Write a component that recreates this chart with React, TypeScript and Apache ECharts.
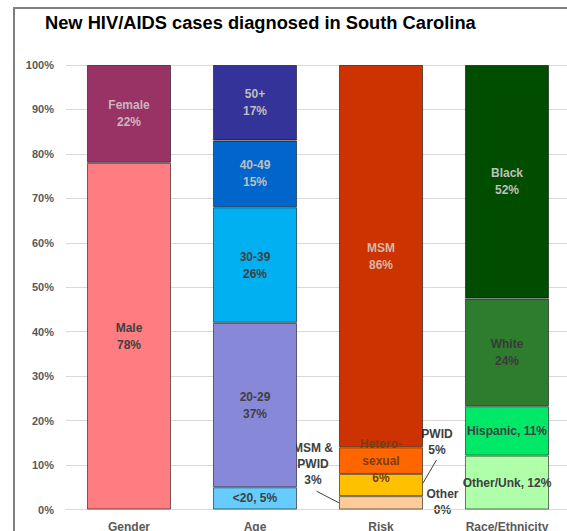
import React, { useEffect, useRef } from 'react';
import * as echarts from 'echarts';

const titleText = 'New HIV/AIDS cases diagnosed in South Carolina';
const categories = ['Gender', 'Age', 'Risk', 'Race/Ethnicity'];

const genderNames = ['Male', 'Female'];
const genderValues = [78, 22];
const ageNames = ['<20', '20-29', '30-39', '40-49', '50+'];
const ageValues = [5, 37, 26, 15, 17];
const riskNames = ['Other', 'MSM &\nPWID', 'PWID', 'Hetero-\nsexual', 'MSM'];
const riskValues = [0, 3, 5, 6, 86];
const raceNames = ['Other/Unk', 'Hispanic', 'White', 'Black'];
const raceValues = [12, 11, 24, 52];

// styles (kept apart from data)
const genderColors = ['#FF7C80', '#993366'];
const ageColors = ['#66CCFF', '#8888D8', '#00B0F0', '#0066CC', '#333399'];
const riskColors = ['#FFCC99', '#FFCC99', '#FFC000', '#FF6600', '#CC3300'];
const raceColors = ['#AFFFAA', '#00E868', '#2E7D2E', '#004D00'];
const genderText = ['#404040', '#C9B6C0'];
const ageText = ['#404040', '#404040', '#404040', '#BFBFBF', '#BFBFBF'];
const riskText = ['#404040', '#404040', '#404040', '#7A3D12', '#D5B8AA'];
const raceText = ['#404040', '#404040', '#3A3A3A', '#BFBFBF'];
// label modes: 'stack' = name\nvalue, 'inline' = name, value; others are drawn outside the bar
const genderModes = ['stack', 'stack'];
const ageModes = ['inline', 'stack', 'stack', 'stack', 'stack'];
const riskModes = ['other', 'left', 'right', 'stack', 'stack'];
const raceModes = ['inline', 'inline', 'stack', 'stack'];

const groups = [
  { names: genderNames, values: genderValues, colors: genderColors, text: genderText, modes: genderModes },
  { names: ageNames, values: ageValues, colors: ageColors, text: ageText, modes: ageModes },
  { names: riskNames, values: riskValues, colors: riskColors, text: riskText, modes: riskModes },
  { names: raceNames, values: raceValues, colors: raceColors, text: raceText, modes: raceModes },
];

const FONT = '"Liberation Sans", Arial, sans-serif';

export default function App() {
  const ref = useRef<HTMLDivElement>(null);
  useEffect(() => {
    if (!ref.current) return;
    const chart = echarts.init(ref.current, undefined, { renderer: 'svg' });
    const series: any[] = [];
    groups.forEach((g, gi) => {
      const total = g.values.reduce((a, b) => a + b, 0);
      g.values.forEach((v, i) => {
        const mode = g.modes[i];
        const inside = mode === 'stack' || mode === 'inline';
        const text = mode === 'inline' ? `${g.names[i]}, ${v}%` : `${g.names[i]}\n${v}%`;
        series.push({
          type: 'bar',
          name: g.names[i].replace('\n', ' '),
          stack: 'total',
          barWidth: '66.7%',
          data: categories.map((_, k) => (k === gi ? (v / total) * 100 : '-')),
          itemStyle: {
            color: g.colors[i],
            borderColor: 'rgba(0,0,0,0.55)',
            borderWidth: v === 0 ? 0 : 1,
          },
          label: {
            show: inside,
            position: 'inside',
            formatter: () => text,
            color: g.text[i],
            fontFamily: FONT,
            fontWeight: 'bold',
            fontSize: 12,
            lineHeight: 17,
          },
          emphasis: { disabled: true },
        });
      });
    });

    chart.setOption({
      animation: false,
      grid: { left: 66, right: -3, top: 65, bottom: 21.5, outerBoundsMode: 'none' },
      xAxis: {
        type: 'category',
        data: categories,
        axisLine: { lineStyle: { color: '#D9D9D9', width: 1 } },
        axisTick: { show: false },
        axisLabel: { color: '#595959', fontFamily: FONT, fontWeight: 'bold', fontSize: 12, margin: 11 },
      },
      yAxis: {
        type: 'value',
        min: 0,
        max: 100,
        interval: 10,
        axisLine: { show: false },
        axisTick: { show: false },
        splitLine: { lineStyle: { color: '#D9D9D9', width: 1 } },
        axisLabel: { formatter: '{value}%', color: '#595959', fontFamily: FONT, fontWeight: 'bold', fontSize: 11, margin: 12 },
      },
      series,
    });

    // outside labels, positioned through the chart's own scales
    const px = (c: number, val: number) => chart.convertToPixel({ gridIndex: 0 }, [c, val]) as number[];
    const band = px(1, 0)[0] - px(0, 0)[0];
    const half = (band * 0.667) / 2;
    const elements: any[] = [
      {
        type: 'text',
        style: { text: titleText, x: 45, y: 22.8, fill: '#000', font: `bold 18.3px ${FONT}`, verticalAlign: 'middle' },
      },
    ];
    groups.forEach((g, gi) => {
      const total = g.values.reduce((a, b) => a + b, 0);
      let cum = 0;
      g.values.forEach((v, i) => {
        const bottomVal = cum;
        cum += (v / total) * 100;
        const mode = g.modes[i];
        if (mode === 'stack' || mode === 'inline') return;
        const [cx, yBottom] = px(gi, bottomVal);
        const yTop = px(gi, cum)[1];
        const yMid = (yTop + yBottom) / 2;
        const left = cx - half;
        const right = cx + half;
        const text = `${g.names[i]}\n${v}%`;
        const st = { fill: '#404040', font: `bold 12px ${FONT}`, lineHeight: 16, align: 'center', verticalAlign: 'middle' };
        const lineStyle = { stroke: '#404040', lineWidth: 1 };
        if (mode === 'left') {
          elements.push({ type: 'text', style: { ...st, text, x: left - 26, y: yTop - 32 } });
          elements.push({ type: 'line', z: 200, shape: { x1: left - 22.5, y1: yTop - 5, x2: left, y2: yMid }, style: lineStyle });
        } else if (mode === 'right') {
          elements.push({ type: 'text', style: { ...st, text, x: right + 14, y: yTop - 32 } });
          elements.push({ type: 'line', z: 200, shape: { x1: right + 13.5, y1: yTop - 14, x2: right, y2: yMid - 2 }, style: lineStyle });
        } else if (mode === 'other') {
          elements.push({ type: 'text', style: { ...st, text, x: right + 19.5, y: yBottom - 7.5 } });
        }
      });
    });
    chart.setOption({ graphic: { elements } });

    return () => chart.dispose();
  }, []);
  return (
    <div style={{ position: 'fixed', left: 0, top: 0, width: 567, height: 531, overflow: 'hidden', background: '#fff' }}>
      <div
        style={{
          position: 'absolute',
          left: 13,
          top: 7,
          width: 1000,
          height: 1000,
          borderLeft: '2px solid #7F7F7F',
          borderTop: '2px solid #7F7F7F',
        }}
      />
      <div ref={ref} style={{ position: 'absolute', left: 0, top: 0, width: 567, height: 531 }} />
    </div>
  );
}
